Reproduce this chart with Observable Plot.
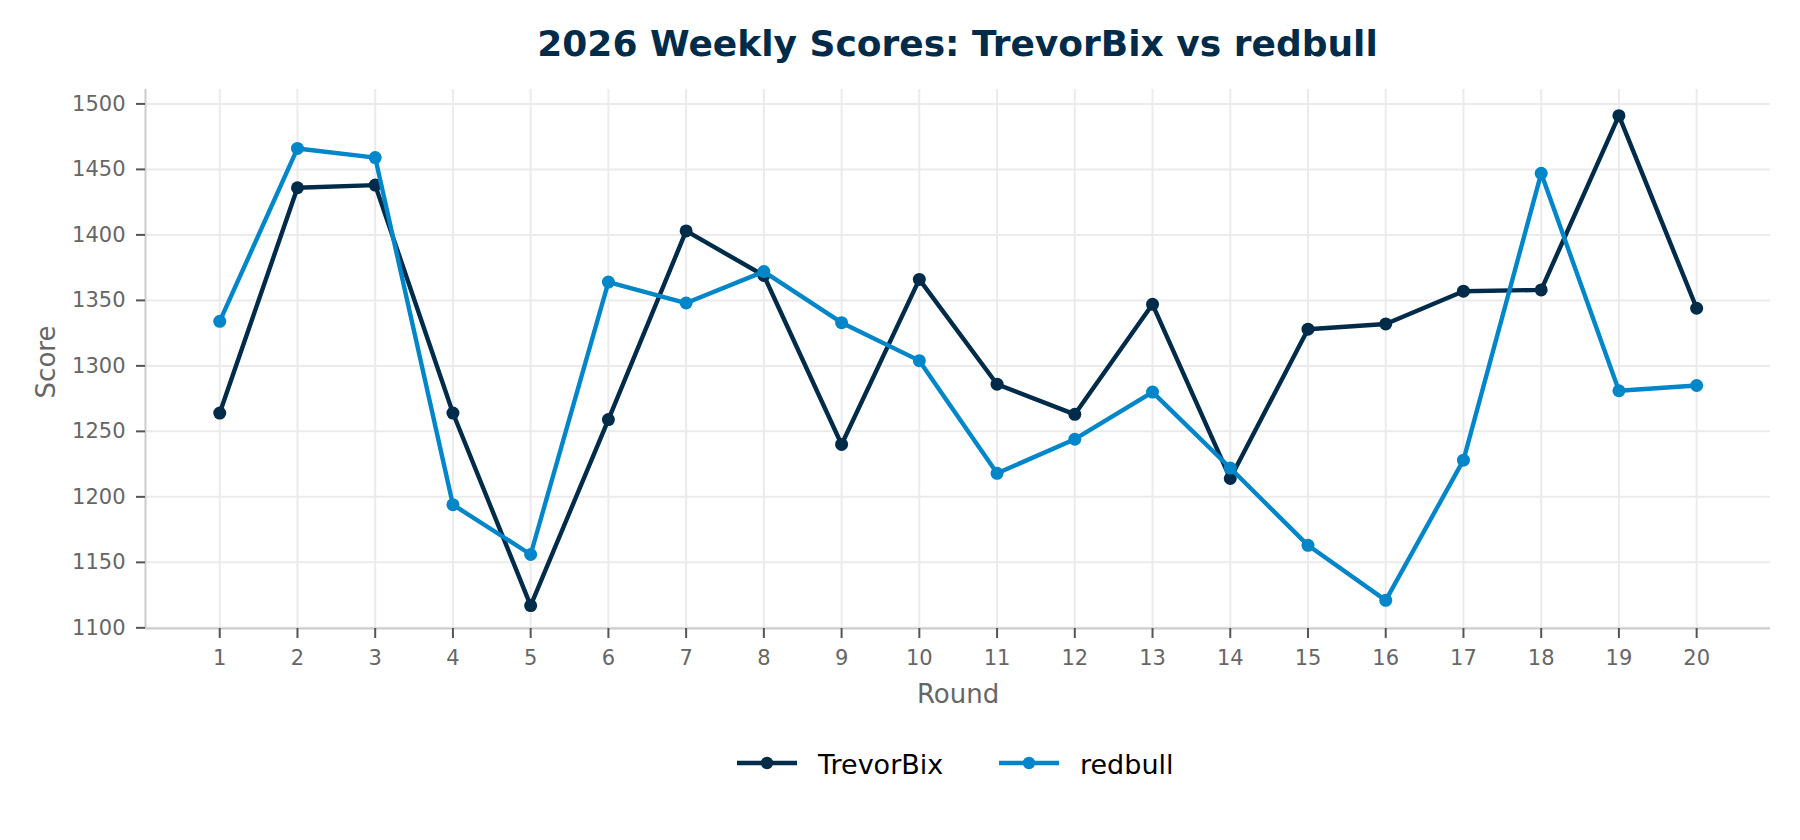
<!DOCTYPE html>
<html>
<head>
<meta charset="utf-8">
<script src="https://cdn.jsdelivr.net/npm/d3@7"></script>
<script src="https://cdn.jsdelivr.net/npm/@observablehq/plot@0.6"></script>
<style>
  html, body { margin: 0; padding: 0; background: #fff; }
  #wrap { position: relative; width: 1800px; height: 840px; font-family: "DejaVu Sans", sans-serif; }
  #chart { position: absolute; left: 0; top: 0; }
  .title { position: absolute; left: 0; width: 1915px; top: 26px; text-align: center; font-weight: bold; font-size: 36px; line-height: 36px; color: #002b49; white-space: nowrap; }
  .leg { position: absolute; font-size: 27px; line-height: 27px; color: #000; white-space: nowrap; }
  .sw { position: absolute; }
</style>
</head>
<body>
<div id="wrap">
  <div id="chart"></div>
  <div class="title" id="title"></div>
  <div id="legend"></div>
</div>
<script>
const titleText = "2026 Weekly Scores: TrevorBix vs redbull";
const xLabel = "Round";
const yLabel = "Score";
const rounds = [1, 2, 3, 4, 5, 6, 7, 8, 9, 10, 11, 12, 13, 14, 15, 16, 17, 18, 19, 20];
const yTicks = [1100, 1150, 1200, 1250, 1300, 1350, 1400, 1450, 1500];
const seriesNames = ["TrevorBix", "redbull"];
const seriesColors = ["#002b49", "#0086c9"];
const trevorBix = [1264, 1436, 1438, 1264, 1117, 1259, 1403, 1369, 1240, 1366, 1286, 1263, 1347, 1214, 1328, 1332, 1357, 1358, 1491, 1344];
const redbull = [1334, 1466, 1459, 1194, 1156, 1364, 1348, 1372, 1333, 1304, 1218, 1244, 1280, 1222, 1163, 1121, 1228, 1447, 1281, 1285];
const xDomain = [0.045, 20.95];
const yDomain = [1099.5, 1511];

const seriesValues = [trevorBix, redbull];
const tables = seriesValues.map((vals, i) => rounds.map((r, j) => ({round: r, score: vals[j], series: seriesNames[i]})));

const marks = [
  Plot.gridX(rounds, {stroke: "#ebebeb", strokeOpacity: 1, strokeWidth: 2}),
  Plot.gridY(yTicks, {stroke: "#ebebeb", strokeOpacity: 1, strokeWidth: 2}),
  Plot.ruleX([xDomain[0]], {stroke: "#cccccc", strokeWidth: 2}),
  Plot.ruleY([yDomain[0]], {stroke: "#cccccc", strokeWidth: 2}),
  Plot.axisX(rounds, {tickSize: 10, tickPadding: 12, fontSize: 21, stroke: "#555", fill: "#666", strokeWidth: 2, label: null, tickFormat: d => String(d)}),
  Plot.axisY(yTicks, {tickSize: 9, tickPadding: 11, fontSize: 21, stroke: "#555", fill: "#666", strokeWidth: 2, label: null, tickFormat: d => String(d)}),
  Plot.text([xLabel], {frameAnchor: "bottom", textAnchor: "middle", lineAnchor: "bottom", dy: 74, fontSize: 26, fill: "#666"}),
  Plot.text([yLabel], {frameAnchor: "left", textAnchor: "middle", lineAnchor: "middle", rotate: -90, dx: -99, dy: 3, fontSize: 26, fill: "#666"})
];
tables.forEach((t, i) => {
  marks.push(Plot.line(t, {x: "round", y: "score", stroke: seriesColors[i], strokeWidth: 4.4, strokeLinejoin: "round", strokeLinecap: "round"}));
  marks.push(Plot.dot(t, {x: "round", y: "score", fill: seriesColors[i], r: 6.5, stroke: "none"}));
});

const chart = Plot.plot({
  width: 1800,
  height: 840,
  marginLeft: 145,
  marginRight: 30,
  marginTop: 89,
  marginBottom: 212,
  style: {fontFamily: "DejaVu Sans, sans-serif", background: "#fff", overflow: "visible"},
  x: {type: "linear", domain: xDomain, axis: null},
  y: {type: "linear", domain: yDomain, axis: null},
  marks
});
document.getElementById("chart").appendChild(chart);
document.getElementById("title").textContent = titleText;

// legend below the plot
const legend = document.getElementById("legend");
const legendX = [737, 999];
seriesNames.forEach((name, i) => {
  const sw = document.createElementNS("http://www.w3.org/2000/svg", "svg");
  sw.setAttribute("width", 62); sw.setAttribute("height", 20);
  sw.setAttribute("class", "sw");
  sw.style.left = (legendX[i] - 1) + "px";
  sw.style.top = "753px";
  sw.innerHTML = `<line x1="1" y1="10" x2="61" y2="10" stroke="${seriesColors[i]}" stroke-width="4.4"/><circle cx="31" cy="10" r="6.2" fill="${seriesColors[i]}"/>`;
  legend.appendChild(sw);
  const lab = document.createElement("div");
  lab.className = "leg";
  lab.style.left = (legendX[i] + 81) + "px";
  lab.style.top = "750.5px";
  lab.textContent = name;
  legend.appendChild(lab);
});
</script>
</body>
</html>
